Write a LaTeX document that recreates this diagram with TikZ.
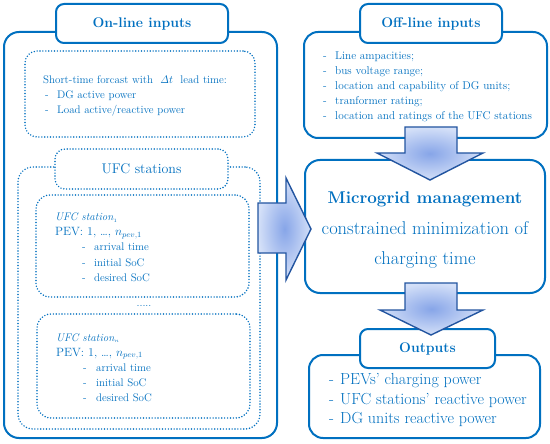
\documentclass[tikz,border=0pt]{standalone}
\definecolor{ublue}{RGB}{0,112,192}
\definecolor{adark}{RGB}{35,85,160}
\definecolor{ain}{RGB}{135,165,232}
\definecolor{aout}{RGB}{212,224,248}
\begin{document}
\begin{tikzpicture}[x=1pt,y=-1pt,
  solidbox/.style={draw=ublue,line width=2pt,inner sep=0pt,fill=white},
  dotbox/.style={draw=ublue,line width=1.6pt,dash pattern=on 0pt off 2.9pt,line cap=round,inner sep=0pt,fill=white},
  tx/.style={text=ublue,inner sep=0pt,anchor=base west},
  txc/.style={text=ublue,inner sep=0pt,anchor=base},
  blockarrow/.style={draw=adark,line width=1.4pt,line join=miter,inner color=ain,outer color=aout},
  fa/.style={font=\fontsize{11}{13}\selectfont},
  fs/.style={font=\fontsize{11}{13}\selectfont},
  fo/.style={font=\fontsize{11.3}{13}\selectfont},
  fu/.style={font=\fontsize{16}{18}\selectfont}]
\useasboundingbox (0,0) rectangle (550,444);
% ---- on-line inputs ----
\node[solidbox,rounded corners=15pt,minimum width=273pt,minimum height=406pt] (online) at (140.5,235) {};
\node[solidbox,rounded corners=8pt,minimum width=172pt,minimum height=39pt,text=ublue,font=\fontsize{14}{16}\selectfont\bfseries] (onlinet) at (142,23.5) {On-line inputs};
\node[dotbox,rounded corners=12pt,minimum width=230pt,minimum height=86pt] (fore) at (140,94) {};
\node[tx,fa] (f1) at (43,84) {Short-time forcast with \ $\mathit{\Delta}t$\ \ lead time:};
\node[tx,fa] (f2) at (45,99) {-};
\node[tx,fa] (f3) at (57,99) {DG active power};
\node[tx,fa] (f4) at (45,114) {-};
\node[tx,fa] (f5) at (57,114) {Load active/reactive power};
\node[dotbox,rounded corners=15pt,minimum width=242pt,minimum height=262pt] (ufco) at (139,298) {};
\node[dotbox,rounded corners=10pt,minimum width=173pt,minimum height=40pt,text=ublue,font=\fontsize{14}{16}\selectfont] (ufct) at (141.5,169) {UFC stations};
\node[dotbox,rounded corners=14pt,minimum width=213pt,minimum height=102pt] (st1) at (142.5,246) {};
\node[tx,fs] (s11) at (55,221) {\textit{UFC station}$_{\scriptscriptstyle 1}$};
\node[tx,font=\fontsize{12}{14}\selectfont] (s12) at (55,236) {PEV:\ 1, \ldots, $n_{pev,1}$};
\node[tx,fs] (s13) at (82,251) {-};
\node[tx,fs] (s14) at (94,251) {arrival time};
\node[tx,fs] (s15) at (82,266) {-};
\node[tx,fs] (s16) at (94,266) {initial SoC};
\node[tx,fs] (s17) at (82,281) {-};
\node[tx,fs] (s18) at (94,281) {desired SoC};
\node[txc,fs] (dots) at (144,306) {.....};
\node[dotbox,rounded corners=14pt,minimum width=213pt,minimum height=104pt] (stn) at (143.5,366) {};
\node[tx,fs] (sn1) at (56,341) {\textit{UFC station}$_{\scriptscriptstyle n}$};
\node[tx,font=\fontsize{12}{14}\selectfont] (sn2) at (56,356) {PEV:\ 1, \ldots, $n_{pev,1}$};
\node[tx,fs] (sn3) at (83,371) {-};
\node[tx,fs] (sn4) at (96,371) {arrival time};
\node[tx,fs] (sn5) at (83,386) {-};
\node[tx,fs] (sn6) at (96,386) {initial SoC};
\node[tx,fs] (sn7) at (83,401) {-};
\node[tx,fs] (sn8) at (96,401) {desired SoC};
% ---- off-line inputs ----
\node[solidbox,rounded corners=14pt,minimum width=243pt,minimum height=106pt] (offl) at (425.5,85) {};
\node[solidbox,rounded corners=8pt,minimum width=142pt,minimum height=39pt,text=ublue,font=\fontsize{14}{16}\selectfont\bfseries] (offt) at (431,23.5) {Off-line inputs};
\node[tx,fo] (o1) at (323,60) {-};
\node[tx,fo] (o2) at (335,60) {Line ampacities;};
\node[tx,fo] (o3) at (323,75) {-};
\node[tx,fo] (o4) at (335,75) {bus voltage range;};
\node[tx,fo] (o5) at (323,90) {-};
\node[tx,fo] (o6) at (335,90) {location and capability of DG units;};
\node[tx,fo] (o7) at (323,105) {-};
\node[tx,fo] (o8) at (335,105) {tranformer rating;};
\node[tx,fo] (o9) at (323,120) {-};
\node[tx,fo] (o10) at (335,120) {location and ratings of the UFC stations};
% ---- microgrid ----
\node[solidbox,rounded corners=15pt,minimum width=240pt,minimum height=133pt] (micro) at (425,226.5) {};
\node[txc,font=\fontsize{17}{20}\selectfont\bfseries] (m1) at (425,204) {Microgrid management};
\node[txc,font=\fontsize{18.5}{20}\selectfont] (m2) at (425,235) {constrained minimization of};
\node[txc,font=\fontsize{18.5}{20}\selectfont] (m3) at (425,264) {charging time};
% ---- arrows into the management box ----
\shadedraw[blockarrow] (405,127) -- (457,127) -- (457,153) -- (483,153) -- (430,180) -- (377,153) -- (405,153) -- cycle;
\shadedraw[blockarrow] (258,203) -- (286,203) -- (286,178) -- (311,229) -- (286,280) -- (286,253) -- (258,253) -- cycle;
% ---- outputs ----
\node[solidbox,rounded corners=14pt,minimum width=231pt,minimum height=83pt] (outb) at (424.5,396.5) {};
\node[solidbox,rounded corners=8pt,minimum width=135pt,minimum height=39pt,text=ublue,font=\fontsize{14}{16}\selectfont\bfseries] (outt) at (427.5,348.5) {Outputs};
\node[tx,fu] (p1) at (329,384) {-};
\node[tx,fu] (p2) at (340,384) {PEVs' charging power};
\node[tx,fu] (p3) at (329,404) {-};
\node[tx,fu] (p4) at (340,404) {UFC stations' reactive power};
\node[tx,fu] (p5) at (329,423) {-};
\node[tx,fu] (p6) at (340,423) {DG units reactive power};
\shadedraw[blockarrow] (405,283) -- (457,283) -- (457,310) -- (483,310) -- (431,335) -- (380,310) -- (405,310) -- cycle;
\end{tikzpicture}
\end{document}
